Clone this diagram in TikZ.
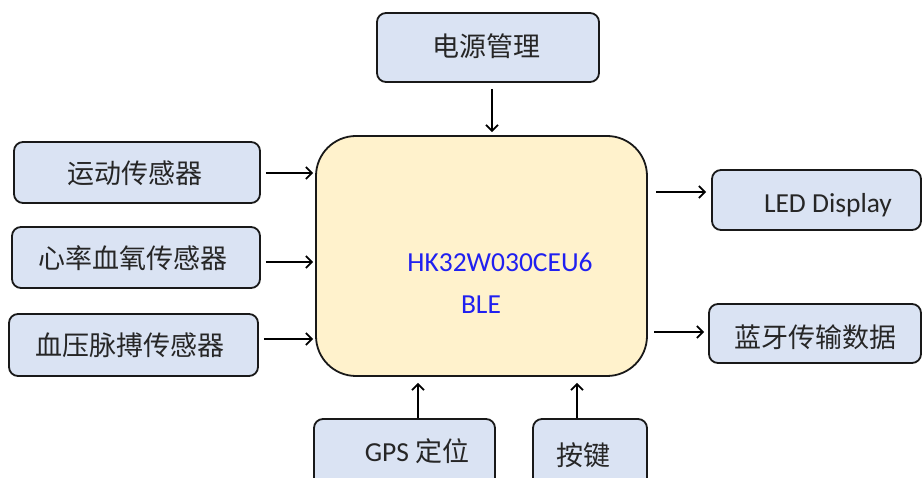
\documentclass[tikz,border=0pt]{standalone}
\usepackage{fontspec}
\setmainfont{Carlito}
\newfontfamily\cjk{Noto Sans CJK SC}
\usetikzlibrary{arrows.meta,calc}
\definecolor{boxblue}{HTML}{DAE3F3}
\definecolor{chipfill}{HTML}{FFF2CC}
\definecolor{txtblue}{HTML}{2020F0}
\definecolor{txtdark}{HTML}{262626}
\begin{document}
\begin{tikzpicture}[x=1pt,y=-1pt,
  bluebox/.style={draw=black!90,line width=1.8pt,fill=boxblue,rounded corners=9pt,inner sep=0pt,anchor=center},
  chip/.style={draw=black!90,line width=1.8pt,fill=chipfill,rounded corners=40pt,inner sep=0pt},
  cjklabel/.style={font=\cjk\fontsize{27}{30}\selectfont,text=txtdark,inner sep=0pt},
  latlabel/.style={font=\fontsize{27.5}{30}\selectfont,inner sep=0pt,anchor=base},
  arr/.style={line width=1.7pt,-{Straight Barb[length=6pt,width=12pt,line width=1.7pt]}}]
\useasboundingbox (0,0) rectangle (922,478);
\clip (0,0) rectangle (922,478);
% boxes
\node[bluebox,minimum width=222pt,minimum height=69pt] (power) at (488,47.5) {};
\node[bluebox,minimum width=246pt,minimum height=61pt] (motion) at (137,172.5) {};
\node[bluebox,minimum width=248pt,minimum height=61pt] (hr) at (136,257.5) {};
\node[bluebox,minimum width=249pt,minimum height=62pt] (bp) at (133.5,345) {};
\node[chip,minimum width=331pt,minimum height=240pt] (mcu) at (481.5,256) {};
\node[bluebox,minimum width=209pt,minimum height=60pt] (led) at (816.5,200) {};
\node[bluebox,minimum width=212pt,minimum height=59pt] (ble) at (815,333.5) {};
\node[bluebox,minimum width=181pt,minimum height=76pt] (gps) at (404.5,457) {};
\node[bluebox,minimum width=114pt,minimum height=76pt] (key) at (590,457) {};
% labels
\node[cjklabel] (tpower) at (486,46) {电源管理};
\node[cjklabel] (tmotion) at (135,173) {运动传感器};
\node[cjklabel] (thr) at (133,258) {心率血氧传感器};
\node[cjklabel] (tbp) at (130,345) {血压脉搏传感器};
\node[latlabel,text=txtblue] (tchip) at (500,272) {HK32W030CEU6};
\node[latlabel,text=txtblue] (tble) at (481,314) {BLE};
\node[latlabel,text=txtdark] (tled) at (828,213) {LED Display};
\node[cjklabel] (tble2) at (815,337) {蓝牙传输数据};
\node[latlabel,text=txtdark] (tgps) at (417,462) {GPS {\cjk\fontsize{27}{30}\selectfont 定位}};
\node[cjklabel] (tkey) at (583,455) {按键};
% arrows
\draw[arr] ($(power.south)+(4,6)$) -- ($(mcu.north)+(10.5,-3)$);
\draw[arr] ($(motion.east)+(5,0.5)$) -- ($(motion.east -| mcu.west)+(-2,0.5)$);
\draw[arr] ($(hr.east)+(5,4.5)$) -- ($(hr.east -| mcu.west)+(-2,4.5)$);
\draw[arr] ($(bp.east)+(5,-6)$) -- ($(bp.east -| mcu.west)+(-2,-6)$);
\draw[arr] ($(led.west |- mcu.east)+(-55,-64)$) -- ($(led.west)+(-5,-8)$);
\draw[arr] ($(ble.west)+(-54,-1.5)$) -- ($(ble.west)+(-4,-1.5)$);
\draw[arr] ($(gps.north -| 418,0)$) -- ($(mcu.south -| 418,0)+(0,6)$);
\draw[arr] ($(key.north -| 577,0)$) -- ($(mcu.south -| 577,0)+(0,6)$);
\end{tikzpicture}
\end{document}
